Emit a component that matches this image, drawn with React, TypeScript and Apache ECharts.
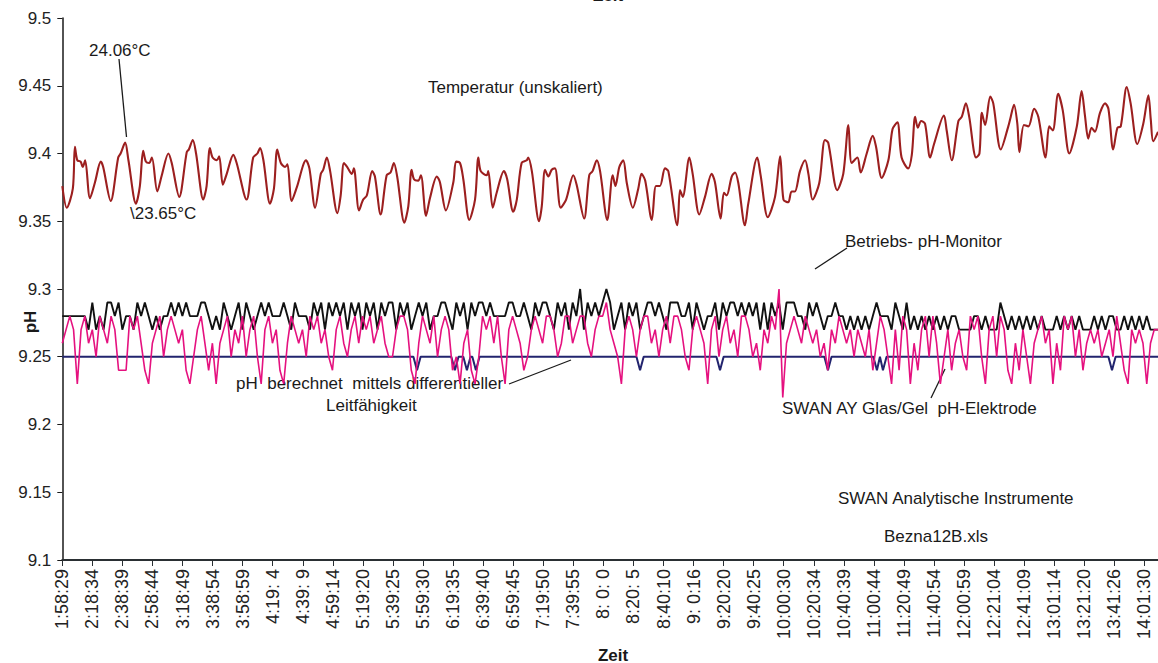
import React, { useEffect, useRef } from "react";
import * as echarts from "echarts";

const FONT = "'Liberation Sans', Arial, sans-serif";

// x axis tick labels (one every ~20 min)
const xLabels = [
  "1:58:29", "2:18:34", "2:38:39", "2:58:44", "3:18:49", "3:38:54", "3:58:59", "4:19: 4", "4:39: 9",
  "4:59:14", "5:19:20", "5:39:25", "5:59:30", "6:19:35", "6:39:40", "6:59:45", "7:19:50", "7:39:55",
  "8: 0: 0", "8:20: 5", "8:40:10", "9: 0:16", "9:20:20", "9:40:25", "10:00:30", "10:20:34", "10:40:39",
  "11:00:44", "11:20:49", "11:40:54", "12:00:59", "12:21:04", "12:41:09", "13:01:14", "13:21:20",
  "13:41:26", "14:01:30",
];

// Temperature (unscaled) drawn on the pH scale: [time in label intervals, value]
const temperature: [number, number][] = [
  [0, 9.376], [0.15, 9.36], [0.35, 9.374], [0.42, 9.405], [0.5, 9.395], [0.61, 9.394], [0.68, 9.39], [0.76, 9.395],
  [0.92, 9.367], [1.09, 9.379], [1.28, 9.394], [1.36, 9.39], [1.61, 9.365], [1.86, 9.397], [1.94, 9.4], [2.09, 9.408],
  [2.2, 9.395], [2.45, 9.363], [2.58, 9.376], [2.69, 9.402], [2.78, 9.394], [2.89, 9.393], [2.98, 9.397], [3.16, 9.372],
  [3.31, 9.384], [3.53, 9.4], [3.64, 9.393], [3.89, 9.368], [4.14, 9.401], [4.21, 9.403], [4.34, 9.41], [4.45, 9.4],
  [4.69, 9.366], [4.8, 9.376], [4.91, 9.404], [5.0, 9.397], [5.14, 9.395], [5.22, 9.398], [5.34, 9.377], [5.47, 9.385],
  [5.69, 9.399], [5.8, 9.393], [6.13, 9.366], [6.35, 9.397], [6.49, 9.4], [6.58, 9.404], [6.69, 9.395], [6.91, 9.363],
  [7.04, 9.374], [7.15, 9.403], [7.27, 9.393], [7.41, 9.39], [7.49, 9.392], [7.63, 9.365], [7.8, 9.375], [8.11, 9.395],
  [8.22, 9.389], [8.41, 9.36], [8.6, 9.385], [8.68, 9.388], [8.8, 9.397], [8.91, 9.387], [9.15, 9.356], [9.26, 9.369],
  [9.37, 9.393], [9.48, 9.39], [9.63, 9.385], [9.7, 9.389], [9.87, 9.358], [10.01, 9.366], [10.13, 9.369], [10.31, 9.387],
  [10.4, 9.383], [10.59, 9.355], [10.79, 9.384], [10.92, 9.386], [11.03, 9.393], [11.14, 9.383], [11.38, 9.349], [11.51, 9.361],
  [11.62, 9.388], [11.7, 9.381], [11.84, 9.38], [11.93, 9.384], [12.1, 9.354], [12.23, 9.367], [12.46, 9.383], [12.56, 9.379],
  [12.76, 9.358], [13.01, 9.379], [13.1, 9.394], [13.23, 9.393], [13.34, 9.381], [13.54, 9.351], [13.73, 9.366], [13.84, 9.397],
  [13.92, 9.387], [14.12, 9.384], [14.17, 9.387], [14.32, 9.36], [14.45, 9.371], [14.69, 9.387], [14.8, 9.381], [15.0, 9.357],
  [15.12, 9.366], [15.28, 9.393], [15.45, 9.395], [15.5, 9.397], [15.62, 9.387], [15.86, 9.35], [15.95, 9.361], [16.06, 9.388],
  [16.17, 9.383], [16.28, 9.388], [16.39, 9.389], [16.58, 9.36], [16.76, 9.366], [17.0, 9.384], [17.11, 9.377], [17.36, 9.352],
  [17.53, 9.384], [17.64, 9.387], [17.78, 9.395], [17.89, 9.387], [18.13, 9.351], [18.31, 9.384], [18.4, 9.376], [18.53, 9.39],
  [18.66, 9.395], [18.78, 9.378], [18.98, 9.36], [19.16, 9.374], [19.27, 9.385], [19.39, 9.38], [19.61, 9.351], [19.75, 9.376],
  [19.88, 9.376], [20.05, 9.389], [20.16, 9.387], [20.46, 9.347], [20.55, 9.373], [20.64, 9.368], [20.86, 9.397], [20.97, 9.385],
  [21.19, 9.355], [21.38, 9.368], [21.6, 9.385], [21.71, 9.379], [21.9, 9.352], [22.01, 9.371], [22.1, 9.369], [22.27, 9.383],
  [22.38, 9.386], [22.49, 9.378], [22.71, 9.347], [22.82, 9.363], [23.12, 9.397], [23.23, 9.384], [23.47, 9.353], [23.71, 9.368],
  [23.88, 9.398], [23.99, 9.366], [24.15, 9.364], [24.26, 9.372], [24.37, 9.372], [24.54, 9.387], [24.71, 9.395], [24.82, 9.385],
  [24.96, 9.366], [25.18, 9.378], [25.37, 9.41], [25.48, 9.408], [25.78, 9.373], [25.98, 9.385], [26.15, 9.421], [26.26, 9.393],
  [26.45, 9.397], [26.56, 9.386], [26.76, 9.4], [26.96, 9.413], [27.07, 9.405], [27.26, 9.382], [27.48, 9.395], [27.62, 9.418],
  [27.78, 9.423], [27.92, 9.397], [28.14, 9.389], [28.26, 9.399], [28.37, 9.427], [28.46, 9.419], [28.57, 9.424], [28.7, 9.422],
  [28.87, 9.397], [29.0, 9.407], [29.33, 9.428], [29.42, 9.417], [29.59, 9.395], [29.81, 9.424], [29.92, 9.427], [30.06, 9.437],
  [30.17, 9.427], [30.4, 9.397], [30.51, 9.4], [30.59, 9.43], [30.7, 9.421], [30.87, 9.442], [30.97, 9.437], [31.22, 9.403],
  [31.47, 9.42], [31.55, 9.427], [31.66, 9.436], [31.77, 9.422], [31.84, 9.401], [31.99, 9.421], [32.14, 9.42], [32.33, 9.433],
  [32.47, 9.427], [32.71, 9.397], [32.83, 9.42], [32.95, 9.417], [33.13, 9.444], [33.28, 9.432], [33.5, 9.4], [33.75, 9.42],
  [33.91, 9.446], [34.02, 9.428], [34.13, 9.411], [34.24, 9.419], [34.35, 9.416], [34.52, 9.43], [34.69, 9.437], [34.8, 9.433],
  [34.96, 9.403], [35.1, 9.419], [35.21, 9.42], [35.41, 9.449], [35.54, 9.437], [35.76, 9.407], [35.96, 9.422], [36.13, 9.443],
  [36.21, 9.425], [36.29, 9.409], [36.45, 9.416],
];

// pH calculated from differential conductivity: [time, pH]
const calcPH: [number, number][] = [
  [0, 9.25], [11.68, 9.25], [11.8, 9.24], [11.92, 9.25], [12.94, 9.25], [13.06, 9.24], [13.18, 9.25],
  [13.34, 9.25], [13.46, 9.24], [13.58, 9.25], [13.64, 9.25], [13.76, 9.24], [13.88, 9.25],
  [19.1, 9.25], [19.22, 9.24], [19.34, 9.25], [21.76, 9.25], [21.88, 9.24], [22.0, 9.25],
  [25.35, 9.25], [25.47, 9.24], [25.59, 9.25], [26.98, 9.25], [27.1, 9.24], [27.2, 9.25], [27.3, 9.24],
  [27.42, 9.25], [34.8, 9.25], [34.92, 9.24], [35.04, 9.25], [36.45, 9.25],
];

// SWAN AY glass/gel pH electrode (sampled at regular intervals)
const electrodePH = [
  9.26, 9.27, 9.28, 9.27, 9.23, 9.27, 9.28, 9.26, 9.27, 9.25, 9.28, 9.27, 9.26, 9.28, 9.27, 9.24, 9.24, 9.24, 9.28, 9.27,
  9.28, 9.26, 9.24, 9.23, 9.26, 9.27, 9.28, 9.25, 9.27, 9.28, 9.27, 9.26, 9.27, 9.24, 9.23, 9.25, 9.27, 9.28, 9.26, 9.24,
  9.26, 9.23, 9.26, 9.27, 9.28, 9.25, 9.27, 9.26, 9.28, 9.25, 9.27, 9.28, 9.25, 9.23, 9.27, 9.28, 9.26, 9.27, 9.24, 9.23,
  9.26, 9.28, 9.27, 9.26, 9.27, 9.25, 9.28, 9.27, 9.28, 9.26, 9.27, 9.25, 9.24,
  9.27, 9.28, 9.26, 9.25, 9.27, 9.28, 9.26, 9.28, 9.27, 9.28, 9.26, 9.27, 9.28, 9.26, 9.25, 9.25, 9.27, 9.28, 9.28, 9.27,
  9.24, 9.23, 9.26, 9.28, 9.27, 9.26, 9.28, 9.25, 9.27, 9.28, 9.27, 9.24, 9.25, 9.23, 9.26, 9.27, 9.24, 9.23, 9.25, 9.28,
  9.27, 9.28, 9.26, 9.28, 9.25, 9.23, 9.27, 9.28, 9.27, 9.26, 9.24, 9.25, 9.27, 9.28, 9.27, 9.26, 9.28, 9.28, 9.27, 9.25,
  9.26, 9.28, 9.28, 9.26, 9.27, 9.28, 9.28, 9.26, 9.25, 9.27, 9.28, 9.28, 9.29,
  9.27, 9.26, 9.25, 9.23, 9.27, 9.28, 9.27, 9.25, 9.27, 9.28, 9.28, 9.26, 9.27, 9.25, 9.27, 9.28, 9.26, 9.28, 9.28, 9.27,
  9.25, 9.24, 9.27, 9.28, 9.27, 9.26, 9.23, 9.27, 9.28, 9.25, 9.27, 9.28, 9.26, 9.27, 9.25, 9.28, 9.28, 9.27, 9.25, 9.26,
  9.24, 9.27, 9.26, 9.28, 9.27, 9.3, 9.22, 9.26, 9.27, 9.28, 9.27, 9.26, 9.28, 9.27, 9.26, 9.27, 9.25, 9.26, 9.24, 9.27,
  9.26, 9.28, 9.27, 9.26, 9.27, 9.25, 9.27, 9.26, 9.25, 9.27, 9.24, 9.26,
  9.28, 9.27, 9.25, 9.23, 9.27, 9.24, 9.28, 9.27, 9.23, 9.26, 9.24, 9.27, 9.28, 9.25, 9.28, 9.26, 9.23, 9.25, 9.27, 9.24,
  9.26, 9.27, 9.25, 9.24, 9.28, 9.27, 9.28, 9.25, 9.23, 9.27, 9.28, 9.25, 9.28, 9.27, 9.24, 9.23, 9.26, 9.24, 9.27, 9.25,
  9.23, 9.26, 9.27, 9.28, 9.26, 9.27, 9.23, 9.26, 9.24, 9.28, 9.27, 9.28, 9.25, 9.27, 9.24, 9.26, 9.27, 9.26, 9.27, 9.25,
  9.26, 9.27, 9.25, 9.28, 9.26, 9.24, 9.23, 9.27, 9.26, 9.27, 9.26, 9.23, 9.26, 9.27, 9.27,
];

// Operating pH monitor (sampled at regular intervals)
const monitorPH = [
  9.28, 9.28, 9.28, 9.28, 9.28, 9.28, 9.28, 9.27, 9.29, 9.27, 9.28, 9.27, 9.29, 9.29, 9.28, 9.29, 9.27, 9.28, 9.28, 9.27,
  9.29, 9.28, 9.29, 9.28, 9.27, 9.28, 9.27, 9.28, 9.28, 9.29, 9.28, 9.29, 9.28, 9.29, 9.28, 9.28, 9.28, 9.29, 9.29, 9.28,
  9.27, 9.28, 9.27, 9.29, 9.28, 9.27, 9.28, 9.29, 9.27, 9.29, 9.28, 9.27, 9.28, 9.29, 9.28, 9.29, 9.28, 9.28, 9.28, 9.29,
  9.28, 9.27, 9.29, 9.28, 9.28, 9.28, 9.27, 9.29, 9.28, 9.29, 9.27, 9.29, 9.28,
  9.29, 9.28, 9.29, 9.27, 9.29, 9.28, 9.29, 9.27, 9.29, 9.28, 9.29, 9.27, 9.29, 9.28, 9.29, 9.29, 9.27, 9.29, 9.28, 9.29,
  9.27, 9.28, 9.29, 9.28, 9.29, 9.27, 9.28, 9.28, 9.29, 9.29, 9.28, 9.27, 9.29, 9.28, 9.29, 9.27, 9.29, 9.28, 9.29, 9.29,
  9.28, 9.29, 9.28, 9.28, 9.28, 9.28, 9.29, 9.29, 9.28, 9.28, 9.29, 9.28, 9.27, 9.29, 9.28, 9.29, 9.29, 9.28, 9.27, 9.29,
  9.28, 9.29, 9.27, 9.29, 9.28, 9.3, 9.27, 9.29, 9.28, 9.29, 9.28, 9.29, 9.3,
  9.29, 9.27, 9.28, 9.29, 9.27, 9.29, 9.28, 9.29, 9.27, 9.28, 9.29, 9.29, 9.28, 9.29, 9.28, 9.27, 9.29, 9.29, 9.29, 9.28,
  9.28, 9.29, 9.27, 9.29, 9.28, 9.27, 9.28, 9.28, 9.29, 9.27, 9.29, 9.28, 9.29, 9.29, 9.28, 9.29, 9.28, 9.29, 9.28, 9.29,
  9.27, 9.29, 9.27, 9.29, 9.28, 9.29, 9.27, 9.29, 9.29, 9.29, 9.28, 9.28, 9.27, 9.29, 9.28, 9.29, 9.28, 9.27, 9.28, 9.28,
  9.29, 9.28, 9.28, 9.27, 9.28, 9.27, 9.28, 9.27, 9.28, 9.27, 9.28, 9.29,
  9.28, 9.28, 9.28, 9.27, 9.29, 9.28, 9.27, 9.29, 9.27, 9.28, 9.27, 9.28, 9.27, 9.28, 9.27, 9.28, 9.27, 9.28, 9.27, 9.28,
  9.28, 9.27, 9.27, 9.27, 9.27, 9.28, 9.28, 9.27, 9.28, 9.27, 9.27, 9.27, 9.29, 9.28, 9.27, 9.28, 9.27, 9.28, 9.27, 9.28,
  9.27, 9.28, 9.27, 9.28, 9.27, 9.27, 9.27, 9.28, 9.27, 9.28, 9.27, 9.28, 9.27, 9.28, 9.27, 9.27, 9.27, 9.28, 9.27, 9.28,
  9.27, 9.28, 9.28, 9.27, 9.27, 9.28, 9.27, 9.28, 9.27, 9.28, 9.27, 9.28, 9.27, 9.27, 9.27,
];

const X_MAX = 36.45;

function sampled(values: number[]): [number, number][] {
  const step = X_MAX / (values.length - 1);
  return values.map((v, i) => [i * step, v]);
}

export default function App() {
  const ref = useRef<HTMLDivElement>(null);

  useEffect(() => {
    if (!ref.current) return;
    const chart = echarts.init(ref.current, null, { renderer: "svg" });
    const txt = (text: string, x: number, y: number, extra: any = {}) => ({
      type: "text",
      x,
      y,
      silent: true,
      style: {
        text,
        fill: "#1a1a1a",
        font: `17px ${FONT}`,
        verticalAlign: "middle",
        align: "left",
        ...extra,
      },
    });
    const ln = (x1: number, y1: number, x2: number, y2: number) => ({
      type: "line",
      silent: true,
      shape: { x1, y1, x2, y2 },
      style: { stroke: "#1a1a1a", lineWidth: 1.3 },
    });

    chart.setOption({
      animation: false,
      backgroundColor: "#ffffff",
      grid: { left: 62.3, right: 0, top: 18, bottom: 103, containLabel: false },
      xAxis: {
        type: "value",
        min: 0,
        max: X_MAX,
        interval: 1,
        splitLine: { show: false },
        axisLine: { show: true, onZero: false, lineStyle: { color: "#2a2f33", width: 2.2 } },
        axisTick: { show: true, length: 6, lineStyle: { color: "#2a2f33", width: 1 } },
        axisLabel: {
          rotate: 90,
          margin: 9,
          fontSize: 18,
          fontFamily: FONT,
          color: "#222",
          formatter: (v: number) => {
            const i = Math.round(v);
            if (Math.abs(v - i) > 1e-6) return "";
            return xLabels[i] ?? "";
          },
        },
      },
      yAxis: {
        type: "value",
        min: 9.1,
        max: 9.5,
        interval: 0.05,
        splitLine: { show: false },
        axisLine: { show: true, onZero: false, lineStyle: { color: "#1a1a1a", width: 1.5 } },
        axisTick: { show: true, length: 5, lineStyle: { color: "#1a1a1a" } },
        axisLabel: { margin: 11, fontSize: 17, fontFamily: FONT, color: "#222" },
      },
      series: [
        {
          name: "pH berechnet",
          type: "line",
          data: calcPH,
          showSymbol: false,
          lineStyle: { color: "#22246e", width: 2 },
          z: 2,
        },
        {
          name: "Betriebs- pH-Monitor",
          type: "line",
          data: sampled(monitorPH),
          showSymbol: false,
          lineStyle: { color: "#111111", width: 1.9 },
          z: 3,
        },
        {
          name: "SWAN AY Glas/Gel pH-Elektrode",
          type: "line",
          data: sampled(electrodePH),
          showSymbol: false,
          lineStyle: { color: "#e5117f", width: 1.6 },
          z: 4,
        },
        {
          name: "Temperatur",
          type: "line",
          data: temperature,
          showSymbol: false,
          smooth: 0.3,
          lineStyle: { color: "#9c1f1f", width: 2.1 },
          z: 5,
        },
      ],
      graphic: [
        txt("Zeit", 608, 4, { font: `bold 17px ${FONT}`, align: "center", verticalAlign: "bottom" }),
        txt("24.06°C", 89, 50),
        ln(119, 59, 126.5, 137),
        txt("\\23.65°C", 130, 213),
        txt("Temperatur (unskaliert)", 428, 87),
        txt("Betriebs- pH-Monitor", 845, 241),
        ln(847, 248, 815, 269),
        txt("pH  berechnet  mittels differentieller", 236, 383),
        ln(509, 384, 571, 360),
        txt("Leitfähigkeit", 326, 405),
        txt("SWAN AY Glas/Gel  pH-Elektrode", 782, 408),
        ln(931, 398, 945, 369),
        txt("SWAN Analytische Instrumente", 838, 498),
        txt("Bezna12B.xls", 884, 536),
        {
          type: "text",
          x: 30,
          y: 322,
          rotation: Math.PI / 2,
          silent: true,
          style: {
            text: "pH",
            fill: "#1a1a1a",
            font: `bold 17px ${FONT}`,
            align: "center",
            verticalAlign: "middle",
          },
        },
        txt("Zeit", 613, 655, { font: `bold 17px ${FONT}`, align: "center" }),
      ],
    });
    return () => chart.dispose();
  }, []);

  return (
    <div
      ref={ref}
      style={{ position: "absolute", left: 0, top: 0, width: 1158, height: 663, background: "#fff" }}
    />
  );
}
